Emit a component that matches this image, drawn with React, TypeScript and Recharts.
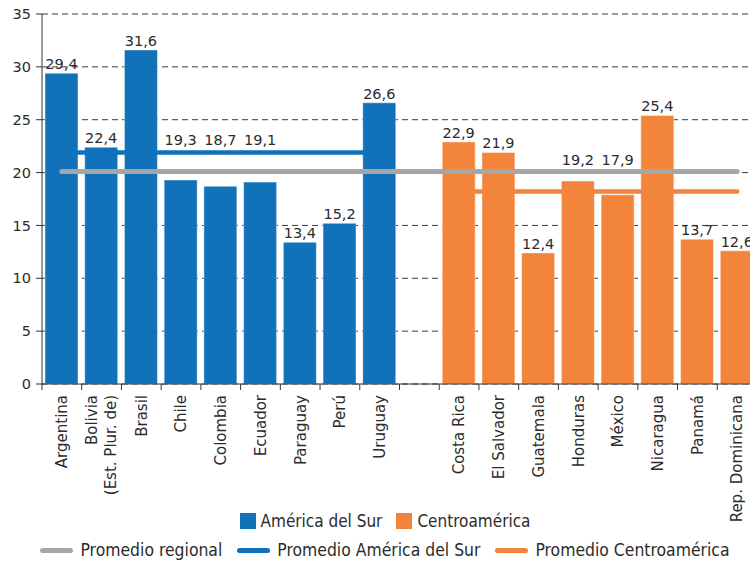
import React from 'react';
import { ComposedChart, Bar, Line, XAxis, YAxis, CartesianGrid, LabelList, Cell } from 'recharts';

const southNames = ['Argentina', 'Bolivia\n(Est. Plur. de)', 'Brasil', 'Chile', 'Colombia', 'Ecuador', 'Paraguay', 'Perú', 'Uruguay'];
const southValues = [29.4, 22.4, 31.6, 19.3, 18.7, 19.1, 13.4, 15.2, 26.6];
const centralNames = ['Costa Rica', 'El Salvador', 'Guatemala', 'Honduras', 'México', 'Nicaragua', 'Panamá', 'Rep. Dominicana'];
const centralValues = [22.9, 21.9, 12.4, 19.2, 17.9, 25.4, 13.7, 12.6];
const regionalAvg = 20.1;
const southAvg = 21.9;
const centralAvg = 18.2;
const yTicks = [0, 5, 10, 15, 20, 25, 30, 35];

const BLUE = '#1172ba';
const ORANGE = '#f2843c';
const GRAY = '#a6a6a6';
const INK = '#2b2b2b';
const AXIS_FONT = "'DejaVu Sans', 'Open Sans', sans-serif";
const LEGEND_FONT = "'DejaVu Sans Condensed', 'Liberation Sans Narrow', 'DejaVu Sans', sans-serif";

type Row = {
  name: string;
  group: 'south' | 'central' | 'gap';
  value: number | null;
  regional: number;
  southAvg: number | null;
  centralAvg: number | null;
};

const data: Row[] = [
  ...southNames.map((name, i) => ({ name, group: 'south' as const, value: southValues[i], regional: regionalAvg, southAvg, centralAvg: null })),
  { name: '', group: 'gap' as const, value: null, regional: regionalAvg, southAvg: null, centralAvg: null },
  ...centralNames.map((name, i) => ({ name, group: 'central' as const, value: centralValues[i], regional: regionalAvg, southAvg: null, centralAvg })),
];

// averages that can sit on top of each group's labels
const groupLines: Record<string, number[]> = {
  south: [regionalAvg, southAvg].sort((a, b) => a - b),
  central: [regionalAvg, centralAvg].sort((a, b) => a - b),
  gap: [],
};

const fmt = (v: number) => v.toFixed(1).replace('.', ',');

function ValueLabel(props: any) {
  const vb = props.viewBox ?? props;
  const x = vb.x ?? props.x;
  const y = vb.y ?? props.y;
  const width = vb.width ?? props.width;
  const height = vb.height ?? props.height;
  const { value, index } = props;
  if (value == null || !height) return null;
  const row = data[index];
  const perUnit = height / value;
  const zeroY = y + height;
  // lift the label above an average line when the line would cross it
  let anchor = Number(value);
  let lifted = false;
  for (const l of groupLines[row.group]) {
    if (l > anchor - 0.3 && l - anchor < 2) {
      anchor = l;
      lifted = true;
    }
  }
  const ty = zeroY - anchor * perUnit - (lifted ? 7 : 4);
  return (
    <text x={x + width / 2} y={ty} textAnchor="middle" fontSize={14.5} fontFamily={AXIS_FONT} fill={INK}>
      {fmt(Number(value))}
    </text>
  );
}

function CategoryTick(props: any) {
  const { x, y, payload } = props;
  const half = payload.offset ?? 0;
  const lines = String(payload.value).split('\n').filter((s) => s.length);
  const n = lines.length;
  return (
    <g>
      <line x1={x - half} x2={x - half} y1={y - 6} y2={y} stroke="#333" strokeWidth={1} />
      <text transform={`translate(${x},${y + 5}) rotate(-90)`} textAnchor="end" fontSize={15} fontFamily={AXIS_FONT} fill={INK}>
        {lines.map((t, j) => (
          <tspan key={j} x={0} y={(j - (n - 1) / 2) * 19 + 5.3}>{t}</tspan>
        ))}
      </text>
    </g>
  );
}

function Swatch({ color, line }: { color: string; line?: boolean }) {
  return line ? (
    <span style={{ display: 'inline-block', width: 33, height: 5, borderRadius: 3, background: color }} />
  ) : (
    <span style={{ display: 'inline-block', width: 16, height: 16, background: color }} />
  );
}

export default function App() {
  const rowStyle: React.CSSProperties = {
    position: 'absolute', left: 0, width: 770, display: 'flex', justifyContent: 'center', alignItems: 'center',
    fontFamily: LEGEND_FONT, fontStretch: 'condensed', fontSize: 17, color: INK, whiteSpace: 'nowrap',
  };
  const item: React.CSSProperties = { display: 'flex', alignItems: 'center' };
  return (
    <div style={{ position: 'absolute', left: 0, top: 0, width: 750, height: 563, overflow: 'hidden', background: '#fff' }}>
      <ComposedChart width={770} height={563} data={data} margin={{ top: 14, right: 13, bottom: 63, left: 0 }}>
        <CartesianGrid vertical={false} stroke="#3a3a3a" strokeDasharray="6 4" />
        <XAxis dataKey="name" interval={0} height={116} tickLine={false} tickSize={6} tickMargin={0}
          axisLine={{ stroke: '#333' }} tick={<CategoryTick />} />
        <YAxis width={42} domain={[0, 35]} ticks={yTicks} tickSize={6} tickMargin={5}
          axisLine={{ stroke: '#333' }} tickLine={{ stroke: '#333' }}
          tick={{ fill: INK, fontSize: 14.5, fontFamily: AXIS_FONT }} />
        <Bar dataKey="value" barSize={33} stroke="#ffffff" strokeOpacity={0.45} strokeWidth={1} isAnimationActive={false}>
          {data.map((d, i) => (
            <Cell key={i} fill={d.group === 'central' ? ORANGE : BLUE} />
          ))}
          <LabelList dataKey="value" content={<ValueLabel />} />
        </Bar>
        <Line dataKey="southAvg" stroke={BLUE} strokeWidth={4.5} strokeLinecap="round" dot={false} activeDot={false} isAnimationActive={false} />
        <Line dataKey="centralAvg" stroke={ORANGE} strokeWidth={4.5} strokeLinecap="round" dot={false} activeDot={false} isAnimationActive={false} />
        <Line dataKey="regional" stroke={GRAY} strokeWidth={5} strokeLinecap="round" dot={false} activeDot={false} isAnimationActive={false} />
      </ComposedChart>
      <div style={{ ...rowStyle, top: 511, height: 20, gap: 14 }}>
        <span style={item}><Swatch color={BLUE} /><span style={{ marginLeft: 5 }}>América del Sur</span></span>
        <span style={item}><Swatch color={ORANGE} /><span style={{ marginLeft: 5 }}>Centroamérica</span></span>
      </div>
      <div style={{ ...rowStyle, top: 540, height: 20, gap: 15, fontSize: 17.4 }}>
        <span style={item}><Swatch color={GRAY} line /><span style={{ marginLeft: 7 }}>Promedio regional</span></span>
        <span style={item}><Swatch color={BLUE} line /><span style={{ marginLeft: 7 }}>Promedio América del Sur</span></span>
        <span style={item}><Swatch color={ORANGE} line /><span style={{ marginLeft: 7 }}>Promedio Centroamérica</span></span>
      </div>
    </div>
  );
}
